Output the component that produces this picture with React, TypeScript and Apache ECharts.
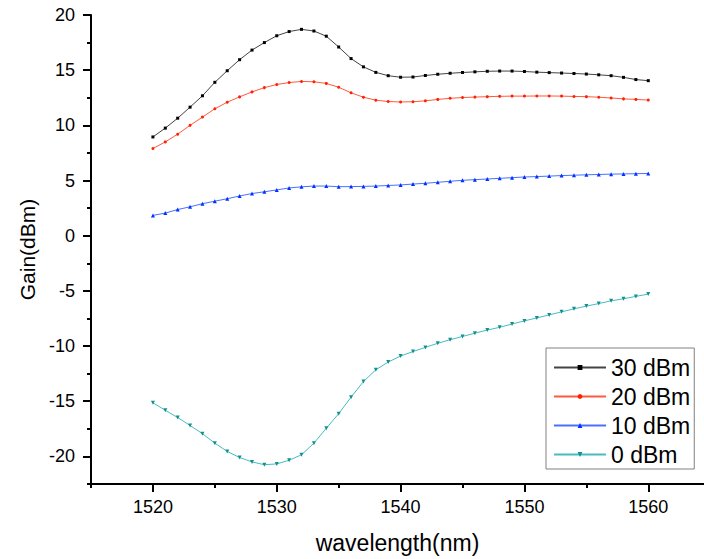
import React, { useEffect, useRef } from "react";
import * as echarts from "echarts";

const wavelengths = [
  1520, 1521, 1522, 1523, 1524, 1525, 1526, 1527, 1528, 1529, 1530, 1531, 1532, 1533, 1534, 1535, 1536, 1537, 1538, 1539, 1540,
  1541, 1542, 1543, 1544, 1545, 1546, 1547, 1548, 1549, 1550, 1551, 1552, 1553, 1554, 1555, 1556, 1557, 1558, 1559, 1560,
];

const gain30 = [
  8.95, 9.75, 10.65, 11.65, 12.68, 13.9, 14.95, 15.95, 16.82, 17.5, 18.12, 18.5, 18.7, 18.55, 18.08, 17.1, 16.05, 15.3, 14.8, 14.5, 14.36,
  14.38, 14.52, 14.63, 14.72, 14.79, 14.85, 14.9, 14.92, 14.92, 14.88, 14.82, 14.78, 14.74, 14.7, 14.65, 14.58, 14.5, 14.35, 14.15, 14.05,
];

const gain20 = [
  7.9, 8.5, 9.2, 10.0, 10.75, 11.5, 12.1, 12.58, 13.03, 13.42, 13.7, 13.88, 13.98, 13.95, 13.8, 13.45, 12.95, 12.55, 12.28, 12.16, 12.12,
  12.14, 12.22, 12.35, 12.45, 12.52, 12.56, 12.6, 12.63, 12.65, 12.65, 12.66, 12.66, 12.65, 12.62, 12.6, 12.55, 12.48, 12.4, 12.35, 12.29,
];

const gain10 = [
  1.84, 2.05, 2.37, 2.62, 2.9, 3.13, 3.35, 3.6, 3.82, 3.98, 4.15, 4.33, 4.43, 4.5, 4.5, 4.44, 4.45, 4.47, 4.5, 4.55, 4.6,
  4.68, 4.75, 4.84, 4.93, 5.02, 5.08, 5.14, 5.2, 5.26, 5.32, 5.36, 5.4, 5.45, 5.48, 5.52, 5.55, 5.58, 5.6, 5.62, 5.64,
];

const gain0 = [
  -15.14, -15.82, -16.48, -17.2, -17.94, -18.8, -19.55, -20.1, -20.5, -20.75, -20.68, -20.35, -19.85, -18.8, -17.45, -16.13, -14.63,
  -13.22, -12.15, -11.45, -10.9, -10.5, -10.12, -9.75, -9.43, -9.13, -8.83, -8.55, -8.3, -8.0, -7.72, -7.45, -7.18, -6.9, -6.63, -6.38,
  -6.15, -5.9, -5.72, -5.5, -5.29,
];

const seriesNames = ["30 dBm", "20 dBm", "10 dBm", "0 dBm"];

const xMajorTicks = [1520, 1530, 1540, 1550, 1560];
const xMinorTicks = [1515, 1525, 1535, 1545, 1555];
const yMajorTicks = [-20, -15, -10, -5, 0, 5, 10, 15, 20];
const yMinorTicks = [-22.5, -17.5, -12.5, -7.5, -2.5, 2.5, 7.5, 12.5, 17.5];

const FONT = "'Liberation Sans', Arial, sans-serif";

export default function App() {
  const ref = useRef<HTMLDivElement>(null);

  useEffect(() => {
    if (!ref.current) return;
    const chart = echarts.init(ref.current, null, { renderer: "svg" });

    const pair = (ys: number[]) => wavelengths.map((x, i) => [x, ys[i]]);

    const axisLine = { show: true, onZero: false, lineStyle: { color: "#000", width: 2 } };

    const mk = (
      name: string,
      data: number[],
      lineColor: string,
      symColor: string,
      symbol: string,
      size: number,
      rotate = 0
    ) => ({
      name,
      type: "line",
      data: pair(data),
      symbol,
      symbolSize: size,
      symbolRotate: rotate,
      showSymbol: true,
      lineStyle: { color: lineColor, width: 1 },
      itemStyle: { color: symColor },
      smooth: false,
    });

    const fmt = (v: number) => String(v);

    chart.setOption({
      animation: false,
      backgroundColor: "#fff",
      textStyle: { fontFamily: FONT },
      grid: { left: 91, top: 15, right: 0, bottom: 73, containLabel: false },
      legend: {
        data: seriesNames,
        orient: "vertical",
        left: 546,
        top: 348,
        padding: [8, 4, 3, 7],
        itemWidth: 52,
        itemHeight: 6,
        itemGap: 6,
        borderColor: "#808080",
        borderWidth: 1,
        borderRadius: 0,
        backgroundColor: "#fff",
        textStyle: { fontSize: 23, color: "#000", fontFamily: FONT, lineHeight: 22 },
      },
      xAxis: [
        {
          type: "value",
          min: 1515,
          max: 1564.5,
          name: "wavelength(nm)",
          nameLocation: "middle",
          nameGap: 47,
          nameTextStyle: { fontSize: 23, color: "#000", fontFamily: FONT },
          axisLine,
          axisTick: { show: true, length: 8, lineStyle: { color: "#000", width: 2 }, customValues: xMajorTicks },
          axisLabel: { show: true, fontSize: 18, color: "#000", margin: 14, fontFamily: FONT, customValues: xMajorTicks, formatter: fmt },
          splitLine: { show: false },
        },
        {
          type: "value",
          min: 1515,
          max: 1564.5,
          position: "bottom",
          axisLine: { show: false, onZero: false },
          axisTick: { show: true, length: 4, lineStyle: { color: "#000", width: 2 }, customValues: xMinorTicks },
          axisLabel: { show: false },
          splitLine: { show: false },
        },
      ],
      yAxis: [
        {
          type: "value",
          min: -22.5,
          max: 20,
          name: "Gain(dBm)",
          nameLocation: "middle",
          nameGap: 52,
          nameTextStyle: { fontSize: 21, color: "#000", fontFamily: FONT },
          axisLine,
          axisTick: { show: true, length: 8, lineStyle: { color: "#000", width: 2 }, customValues: yMajorTicks },
          axisLabel: { show: true, fontSize: 18, color: "#000", margin: 16, fontFamily: FONT, customValues: yMajorTicks, formatter: fmt },
          splitLine: { show: false },
        },
        {
          type: "value",
          min: -22.5,
          max: 20,
          position: "left",
          axisLine: { show: false, onZero: false },
          axisTick: { show: true, length: 4, lineStyle: { color: "#000", width: 2 }, customValues: yMinorTicks },
          axisLabel: { show: false },
          splitLine: { show: false },
        },
      ],
      series: [
        mk(seriesNames[0], gain30, "#444444", "#000000", "rect", 3),
        mk(seriesNames[1], gain20, "#ff5a40", "#ff2000", "circle", 3),
        mk(seriesNames[2], gain10, "#4a70ff", "#0030ff", "triangle", 4),
        mk(seriesNames[3], gain0, "#48bcbc", "#109090", "triangle", 4, 180),
      ],
    });

    return () => chart.dispose();
  }, []);

  return <div ref={ref} style={{ width: 704, height: 559, position: "absolute", left: 0, top: 0 }} />;
}
